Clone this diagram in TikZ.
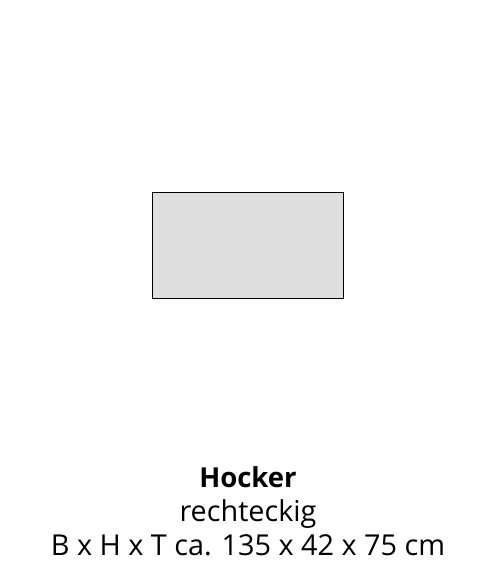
\documentclass[tikz,border=0pt]{standalone}
\usepackage{fontspec}
\setmainfont{Open Sans}
\tikzset{
  caption/.style={anchor=base,inner sep=0pt,font=\fontsize{28.8}{32}\selectfont},
  stool/.style={draw=black,fill=gray!25,line width=1pt}
}
\begin{document}
\begin{tikzpicture}[x=1pt,y=-1pt]
  \useasboundingbox (0,0) rectangle (496,578);
  % top view of the stool
  \draw[stool] (152,192) rectangle (343,298);
  \node[caption,font=\fontsize{27.5}{32}\selectfont\bfseries] (title) at (248,487) {Hocker};
  \node[caption] (shape) at (248,521) {rechteckig};
  \node[caption] (size) at (248,555) {B x H x T ca. 135 x 42 x 75 cm};
\end{tikzpicture}
\end{document}
